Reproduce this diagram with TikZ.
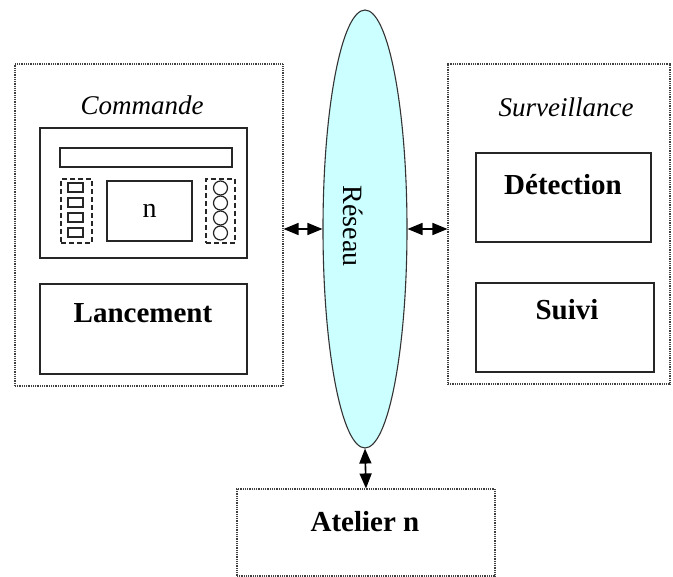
\documentclass[tikz,border=0pt]{standalone}
\usepackage{fontspec}
\setmainfont{Liberation Serif}
\usetikzlibrary{arrows.meta, shapes.geometric, positioning}
\definecolor{netcyan}{RGB}{204,255,255}

\begin{document}
\begin{tikzpicture}[x=1pt, y=-1pt,
  zone/.style={draw=black!75, line width=1.1pt, dash pattern=on 1pt off 0.8pt, fill=white, inner sep=0pt},
  inbox/.style={draw=black!85, line width=1.5pt, fill=white, inner sep=0pt},
  dashbox/.style={draw=black!85, line width=1.3pt, dash pattern=on 5pt off 3pt, inner sep=0pt},
  key/.style={draw=black!85, line width=1.2pt, inner sep=0pt, minimum width=15pt, minimum height=9pt},
  knob/.style={draw=black!85, line width=1.2pt, circle, inner sep=0pt, minimum size=14pt},
  bold text/.style={inner sep=0pt, font=\fontsize{29}{32}\selectfont\bfseries},
  ital text/.style={inner sep=0pt, font=\fontsize{27}{30}\selectfont\itshape},
  link/.style={line width=1.6pt, {Triangle[length=15pt,width=12pt]}-{Triangle[length=15pt,width=12pt]}}]
  \useasboundingbox[fill=white] (0,0) rectangle (673,577);
  % zones
  \node[zone, minimum width=268pt, minimum height=322pt] (commande) at (149,225) {};
  \node[zone, minimum width=222pt, minimum height=320pt] (surv) at (559,224) {};
  \node[zone, minimum width=258pt, minimum height=87pt] (atelier) at (366,532.5) {};
  \node[ital text] (commande label) at (142,105) {Commande};
  \node[ital text] (surv label) at (566,107) {Surveillance};
  \node[bold text] (atelier label) at (365,522) {Atelier n};
  % command panel
  \node[inbox, minimum width=207pt, minimum height=130pt] (panel) at (143.5,193) {};
  \node[inbox, minimum width=172pt, minimum height=19pt] (bar) at (146,157.5) {};
  \node[dashbox, minimum width=31pt, minimum height=64pt] (keys) at (76.5,211) {};
  \node[key] (k1) at (75.5,187.5) {};
  \node[key] (k2) at (75.5,202.5) {};
  \node[key] (k3) at (75.5,217.5) {};
  \node[key] (k4) at (75.5,232.5) {};
  \node[inbox, minimum width=85pt, minimum height=60pt, font=\fontsize{28}{30}\selectfont] (screen) at (149.5,211) {n};
  \node[dashbox, minimum width=29pt, minimum height=64pt] (knobs) at (220.5,211) {};
  \node[knob] (c1) at (220.5,188) {};
  \node[knob] (c2) at (220.5,203) {};
  \node[knob] (c3) at (220.5,218) {};
  \node[knob] (c4) at (220.5,233) {};
  \node[inbox, minimum width=207pt, minimum height=90pt] (lancement) at (143.5,329) {};
  \node[bold text] (lancement label) at (143,313) {Lancement};
  % surveillance boxes
  \node[inbox, minimum width=175pt, minimum height=89pt] (detection) at (563.5,197.5) {};
  \node[bold text] (detection label) at (563,185) {Détection};
  \node[inbox, minimum width=178pt, minimum height=89pt] (suivi) at (565,327.5) {};
  \node[bold text] (suivi label) at (567,310) {Suivi};
  % network
  \node[ellipse, draw=black!80, line width=1.1pt, fill=netcyan, inner sep=0pt, minimum width=84pt, minimum height=438pt] (reseau) at (365,229) {};
  \node[inner sep=0pt, rotate=-90, font=\fontsize{28}{30}\selectfont] (reseau label) at (353,226) {Réseau};
  % links
  \draw[link] (commande.east |- reseau) -- (reseau.west);
  \draw[link] (reseau.east) -- (surv.west |- reseau);
  \draw[link] (reseau.south) -- (atelier.north);
\end{tikzpicture}
\end{document}
